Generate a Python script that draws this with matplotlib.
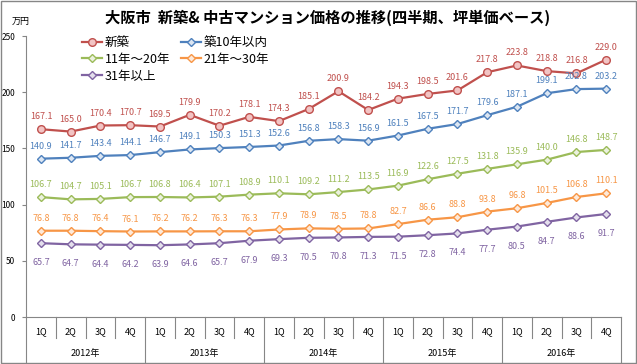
import matplotlib.pyplot as plt
import matplotlib.transforms as mtransforms
from matplotlib.patches import Rectangle

plt.rcParams['font.family'] = ['Noto Sans CJK JP', 'DejaVu Sans']

years = ['2012年', '2013年', '2014年', '2015年', '2016年']
quarters = ['1Q', '2Q', '3Q', '4Q']

shinchiku = [167.1, 165.0, 170.4, 170.7, 169.5, 179.9, 170.2, 178.1, 174.3, 185.1,
             200.9, 184.2, 194.3, 198.5, 201.6, 217.8, 223.8, 218.8, 216.8, 229.0]
within10 = [140.9, 141.7, 143.4, 144.1, 146.7, 149.1, 150.3, 151.3, 152.6, 156.8,
            158.3, 156.9, 161.5, 167.5, 171.7, 179.6, 187.1, 199.1, 202.8, 203.2]
y11_20 = [106.7, 104.7, 105.1, 106.7, 106.8, 106.4, 107.1, 108.9, 110.1, 109.2,
          111.2, 113.5, 116.9, 122.6, 127.5, 131.8, 135.9, 140.0, 146.8, 148.7]
y21_30 = [76.8, 76.8, 76.4, 76.1, 76.2, 76.2, 76.3, 76.3, 77.9, 78.9,
          78.5, 78.8, 82.7, 86.6, 88.8, 93.8, 96.8, 101.5, 106.8, 110.1]
y31 = [65.7, 64.7, 64.4, 64.2, 63.9, 64.6, 65.7, 67.9, 69.3, 70.5,
       70.8, 71.3, 71.5, 72.8, 74.4, 77.7, 80.5, 84.7, 88.6, 91.7]

series = [
    ('新築', shinchiku, '#C0504D', '#F2C4C4', 'o', 9),
    ('築10年以内', within10, '#4F81BD', '#DCE6F2', 'D', 9),
    ('11年～20年', y11_20, '#9BBB59', '#EBF1DE', 'D', 9),
    ('21年～30年', y21_30, '#F79646', '#FDE9D9', 'D', 9),
    ('31年以上', y31, '#8064A2', '#E4DFEC', 'D', -14),
]

fig = plt.figure(figsize=(6.37, 3.64), dpi=100)
ax = fig.add_axes([0.041, 0.129, 0.934, 0.772])

x = list(range(len(shinchiku)))
handles = {}
for name, vals, col, fill, mk, off in series:
    ms = 5.5 if mk == 'o' else 4.5
    h, = ax.plot(x, vals, color=col, lw=1.6, marker=mk, ms=ms,
                 markerfacecolor=fill, markeredgecolor=col, markeredgewidth=1.0,
                 label=name)
    handles[name] = h
    for xi, v in zip(x, vals):
        ax.annotate(f'{v:.1f}', (xi, v), xytext=(0, off), textcoords='offset points',
                    ha='center', va='center', fontsize=6.5, color=col)

ax.set_xlim(-0.5, len(x) - 0.5)
ax.set_ylim(0, 250)
ax.set_yticks([0, 50, 100, 150, 200, 250])
ax.tick_params(axis='y', labelsize=6, length=3, color='#868686', pad=5)
ax.set_xticks([])
for s in ['top', 'right']:
    ax.spines[s].set_visible(False)
ax.spines['left'].set_color('#868686')
ax.spines['bottom'].set_color('#868686')

# multi-level category axis
trans = mtransforms.blended_transform_factory(ax.transData, ax.transAxes)
for i in range(len(x)):
    ax.text(i, -0.053, quarters[i % 4], transform=trans, ha='center', va='center',
            fontsize=6.5)
for j, yr in enumerate(years):
    ax.text(j * 4 + 1.5, -0.128, yr, transform=trans, ha='center', va='center',
            fontsize=6.5)
for i in range(len(x) + 1):
    bottom = -0.165 if i % 4 == 0 else -0.075
    ax.plot([i - 0.5, i - 0.5], [0, bottom], transform=trans, color='#868686',
            lw=0.8, clip_on=False)

order = ['新築', '11年～20年', '31年以上', '築10年以内', '21年～30年']
ax.legend([handles[n] for n in order], order, loc='upper left',
          bbox_to_anchor=(0.075, 1.04), ncol=2, frameon=False, fontsize=9,
          handlelength=1.6, handletextpad=0.2, columnspacing=0.9, labelspacing=0.3)

fig.text(0.515, 0.95, '大阪市  新築& 中古マンション価格の推移(四半期、坪単価ベース)',
         ha='center', va='center', fontsize=11, fontweight='bold')
fig.text(0.018, 0.94, '万円', ha='left', va='center', fontsize=6.5)

fig.patches.append(Rectangle((0.002, 0.003), 0.996, 0.994, transform=fig.transFigure,
                             fill=False, edgecolor='#868686', lw=1))

fig.savefig('out.png', dpi=100)
